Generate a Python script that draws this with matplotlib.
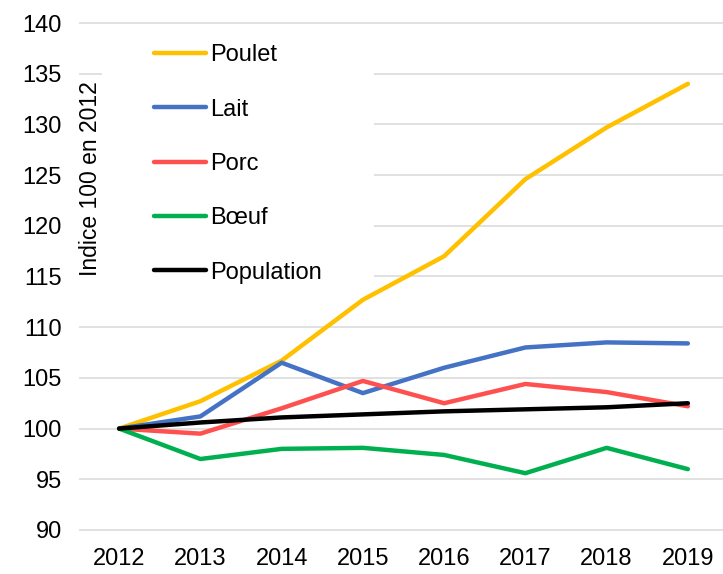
import matplotlib
matplotlib.use('Agg')
import matplotlib.pyplot as plt
from matplotlib.patches import Rectangle

plt.rcParams['font.family'] = ['Liberation Sans', 'DejaVu Sans']

years = [2012, 2013, 2014, 2015, 2016, 2017, 2018, 2019]
poulet = [100, 102.7, 106.7, 112.7, 117.0, 124.6, 129.7, 134.0]
lait = [100, 101.2, 106.5, 103.5, 106.0, 108.0, 108.5, 108.4]
porc = [100, 99.5, 102.0, 104.7, 102.5, 104.4, 103.6, 102.2]
boeuf = [100, 97.0, 98.0, 98.1, 97.4, 95.6, 98.1, 96.0]
population = [100, 100.6, 101.1, 101.4, 101.7, 101.9, 102.1, 102.5]

series = [
    ('Poulet', poulet, '#FFC000'),
    ('Lait', lait, '#4472C4'),
    ('Porc', porc, '#FF5050'),
    ('Bœuf', boeuf, '#00B050'),
    ('Population', population, '#000000'),
]

fig = plt.figure(figsize=(7.23, 5.74), dpi=100)
ax = fig.add_axes([0.1086, 0.0714, 0.899, 0.8938])

# lines
handles = []
for name, vals, col in series:
    h, = ax.plot(years, vals, color=col, lw=3.2, solid_capstyle='round',
                 solid_joinstyle='round', label=name, zorder=3)
    handles.append(h)

ax.set_xlim(2011.5, 2019.5)
ax.set_ylim(89.7, 140.3)
ax.set_yticks(range(90, 141, 5))
ax.set_xticks(years)
ax.grid(axis='y', color='#D9D9D9', lw=1.1)
ax.set_axisbelow(True)
for s in ax.spines.values():
    s.set_visible(False)
ax.tick_params(length=0, labelsize=17)
ax.tick_params(axis='y', pad=12)
ax.tick_params(axis='x', pad=11)

# white boxes behind the legend and the axis title
ax.add_patch(Rectangle((0.036, 0.466), 0.419, 0.518, transform=ax.transAxes,
                       facecolor='white', edgecolor='none', zorder=1))
ax.add_patch(Rectangle((0.0, 0.474), 0.037, 0.417, transform=ax.transAxes,
                       facecolor='white', edgecolor='none', zorder=1))

ax.text(0.019, 0.69, 'Indice 100 en 2012', transform=ax.transAxes, rotation=90,
        ha='center', va='center', fontsize=16.5, zorder=4)

leg = ax.legend(handles=handles, loc='upper left', bbox_to_anchor=(0.091, 0.985),
                frameon=False, fontsize=17, handlelength=2.2, handletextpad=0.15,
                labelspacing=1.37, borderpad=0.2)
for line in leg.get_lines():
    line.set_linewidth(3.2)

fig.savefig('out.png', dpi=100)
